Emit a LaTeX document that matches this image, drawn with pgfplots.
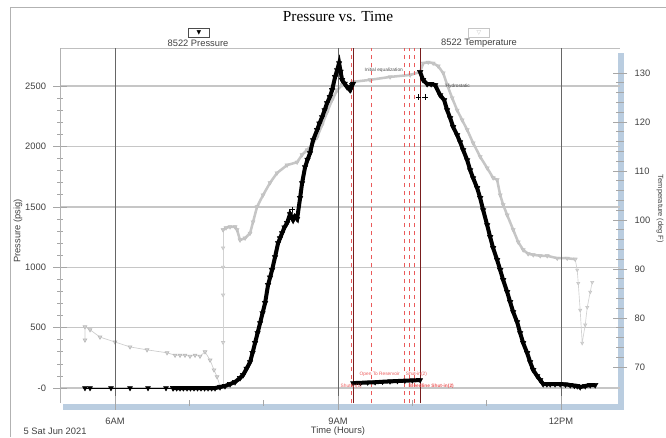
\documentclass[border=0pt]{standalone}
\usepackage{fontspec}
\setmainfont{Liberation Sans}
\newfontfamily\titlefont{Liberation Serif}
\newfontfamily\dejavu{DejaVu Sans}
\usepackage{pgfplots}
\pgfplotsset{compat=1.18}
\definecolor{band}{RGB}{186,205,224}
\definecolor{evred}{RGB}{235,90,90}
\definecolor{evdark}{RGB}{120,30,30}
\tikzset{tl/.style={font=\fontsize{7}{8}\selectfont, text=black!75}}
\pgfplotsset{base/.style={at={(45pt,-302.25pt)}, anchor=south west, scale only axis,
  width=420pt, height=266.25pt, xmin=5.26, xmax=12.794}}
\begin{document}
\begin{tikzpicture}[x=0.75pt,y=-0.75pt]
\path[use as bounding box] (0,0) rectangle (666,437);
\draw[gray!60, line width=0.6pt] (10,437) -- (10,7) -- (666,7);
\fill[band] (618,53) rectangle (624,410);
\fill[band] (63,404) rectangle (624,410);
\draw[gray!50, line width=0.6pt] (60,48) -- (620,48);
% horizontal grid
\begin{axis}[base, ymin=-124, ymax=2815, axis line style={draw=none},
  xtick=\empty, ytick={0,500,...,2500}, yticklabels={}, ymajorgrids,
  major grid style={gray!45, line width=1.1pt}, tick style={draw=none}]
\end{axis}
% temperature
\begin{axis}[base, ymin=62.65, ymax=135.1, axis y line*=right, axis x line=none,
  y axis line style={draw=none}, /pgf/number format/assume math mode=true,
  ytick={70,80,...,130}, minor y tick num=4, tick align=center,
  major tick length=11pt, minor tick length=6pt,
  tick style={gray!70, line width=0.5pt},
  yticklabel style={tl, xshift=2pt}]
\addplot[gray!40, line width=0.5pt, mark=triangle*, mark size=1.6pt,
  mark options={rotate=180, fill=gray!30, draw=gray!55}] coordinates {
(5.596,75.5)(5.596,78.2)(5.664,77.6)(5.798,76.1)(6.000,75.1)(6.202,74.1)(6.431,73.5)
(6.700,72.9)(6.808,72.4)(6.875,72.4)(6.942,72.4)(7.009,72.2)(7.077,72.4)(7.144,72.2)
(7.211,73.1)(7.279,71.4)(7.332,69.4)(7.373,68.0)(7.413,66.1)};
\addplot[gray!35, line width=0.5pt, mark=triangle*, mark size=1.4pt,
  mark options={rotate=180, fill=gray!25, draw=gray!45}] coordinates {
(7.413,66.1)(7.454,66.1)(7.454,75.0)(7.454,84.7)(7.454,90.4)(7.454,94.3)(7.454,98.0)};
\addplot[gray!45, line width=1.9pt, mark=triangle*, mark size=1.8pt,
  mark options={rotate=180, fill=gray!45, draw=gray!50, line width=0.3pt}] coordinates {
(7.454,98.0)(7.494,98.4)(7.548,98.6)(7.615,98.6)(7.642,98.0)(7.682,95.9)(7.750,96.3)
(7.817,97.3)(7.857,99.6)(7.911,102.7)(7.992,105.1)(8.086,107.6)(8.180,109.6)(8.315,111.2)
(8.450,111.8)(8.517,113.3)(8.584,114.3)(8.665,115.7)(8.719,116.9)(8.786,119.4)(8.853,122.0)
(8.921,124.5)(8.988,126.5)(9.055,127.6)(9.136,127.1)(9.203,128.2)(9.432,128.6)(9.701,129.2)
(9.970,129.6)(10.105,130.2)(10.145,132.0)(10.213,132.2)(10.280,132.0)(10.347,131.4)
(10.415,130.0)(10.468,127.6)(10.536,124.9)(10.603,122.4)(10.670,120.4)(10.738,118.4)
(10.818,115.7)(10.913,112.9)(11.007,110.6)(11.087,108.6)(11.141,108.2)(11.182,105.1)
(11.222,103.1)(11.276,101.0)(11.357,98.0)(11.424,95.5)(11.491,93.9)(11.558,93.1)
(11.626,92.9)(11.720,92.7)(11.814,92.7)(11.949,92.2)(12.083,92.2)(12.191,92.0)};
\addplot[gray!35, line width=0.5pt, mark=triangle*, mark size=1.3pt,
  mark options={rotate=180, fill=gray!25, draw=gray!45}] coordinates {
(12.191,92.0)(12.218,89.8)(12.232,87.1)(12.258,81.6)(12.285,74.9)(12.326,78.6)
(12.353,82.2)(12.393,85.3)(12.420,87.3)};
\end{axis}
% pressure
\begin{axis}[base, ymin=-124, ymax=2815,
  axis x line*=bottom, axis y line*=left,
  x axis line style={draw=none}, y axis line style={gray!60, line width=0.5pt},
  xtick={6,9,12}, xticklabels={6AM,9AM,12PM}, minor xtick={7,8,10,11},
  xmajorgrids, major grid style={black!60, line width=0.6pt},
  ytick={0,500,...,2500}, yticklabels={-0,500,1000,1500,2000,2500}, minor y tick num=4,
  tick align=center, major tick length=10pt, minor tick length=4.5pt,
  tick style={gray!70, line width=0.5pt},
  tick label style={tl}, xticklabel style={yshift=-2.5pt}, yticklabel style={xshift=-2pt}]
\addplot[evred, dashed, line width=0.6pt] coordinates {(9.176,-124)(9.176,2815)};
\addplot[evred, dashed, line width=0.6pt] coordinates {(9.445,-124)(9.445,2815)};
\addplot[evred, dashed, line width=0.6pt] coordinates {(9.890,-124)(9.890,2815)};
\addplot[evred, dashed, line width=0.6pt] coordinates {(9.957,-124)(9.957,2815)};
\addplot[evred, dashed, line width=0.6pt] coordinates {(10.024,-124)(10.024,2815)};
\addplot[evdark, line width=0.7pt] coordinates {(9.203,-124)(9.203,2815)};
\addplot[evdark, line width=0.7pt] coordinates {(10.105,-124)(10.105,2815)};
\addplot[black, line width=0.5pt, mark=triangle*, mark size=2pt,
  mark options={rotate=180}] coordinates {
(5.596,0)(5.664,0)(5.946,0)(6.202,0)(6.444,0)(6.686,0)(6.781,0)};
\addplot[black, line width=3pt, mark=triangle*, mark size=2.4pt,
  mark options={rotate=180, line width=0.3pt}] coordinates {
(6.781,0)(6.830,0)(6.875,0)(6.920,0)(6.969,0)(7.015,0)(7.063,0)(7.110,0)(7.157,0)
(7.205,0)(7.252,0)(7.300,0)(7.346,0)(7.413,8)(7.480,17)(7.548,33)(7.615,50)(7.682,83)
(7.723,108)(7.770,160)(7.817,215)(7.850,290)(7.884,373)(7.918,455)(7.952,538)(7.985,620)
(8.019,704)(8.059,853)(8.086,915)(8.113,977)(8.153,1084)(8.194,1200)(8.220,1240)
(8.248,1283)(8.280,1330)(8.315,1366)(8.355,1440)(8.396,1391)(8.420,1420)(8.450,1400)
(8.490,1573)(8.517,1697)(8.557,1829)(8.590,1890)(8.624,1945)(8.665,2053)(8.719,2136)
(8.750,2190)(8.786,2243)(8.820,2300)(8.853,2359)(8.890,2410)(8.921,2467)(8.961,2575)
(8.988,2632)(9.015,2690)(9.035,2620)(9.055,2550)(9.090,2520)(9.122,2492)(9.163,2467)
(9.190,2510)(9.203,2520)};
\addplot[black, line width=3pt, mark=triangle*, mark size=2.2pt,
  mark options={rotate=180, line width=0.3pt}] coordinates {
(9.203,41)(9.300,43)(9.400,46)(9.500,48)(9.600,52)(9.700,55)(9.800,58)(9.900,61)
(10.000,63)(10.105,66)};
\addplot[black, line width=3pt, mark=triangle*, mark size=2.4pt,
  mark options={rotate=180, line width=0.3pt}] coordinates {
(10.105,2616)(10.145,2550)(10.199,2517)(10.253,2517)(10.307,2508)(10.374,2425)
(10.428,2384)(10.468,2301)(10.509,2235)(10.549,2161)(10.603,2094)(10.643,2036)
(10.684,1970)(10.738,1887)(10.778,1804)(10.818,1738)(10.872,1656)(10.913,1573)
(10.953,1473)(11.007,1349)(11.047,1250)(11.087,1159)(11.141,1060)(11.182,977)
(11.222,894)(11.276,795)(11.316,712)(11.357,629)(11.410,546)(11.451,455)(11.491,373)
(11.545,290)(11.585,215)(11.626,149)(11.680,99)(11.720,66)(11.760,33)(11.810,33)
(11.855,33)(11.920,33)(11.989,33)(12.060,30)(12.124,25)(12.180,20)(12.218,17)
(12.258,8)(12.326,17)(12.393,25)(12.460,25)};
\addplot[black, only marks, mark=+, mark size=2pt] coordinates {
(10.080,2409)(10.170,2409)(8.380,1480)};
\end{axis}
% texts
\node[font=\titlefont\fontsize{11.5}{12}\selectfont] at (338,16.5) {Pressure vs. Time};
\node[draw=black!70, line width=0.4pt, inner sep=0pt, minimum width=16pt, minimum height=7pt,
  font=\dejavu\fontsize{4.5}{5}\selectfont] at (199,32.5) {▼};
\node[tl] at (198,43) {8522 Pressure};
\node[draw=gray!45, line width=0.4pt, inner sep=0pt, minimum width=16pt, minimum height=7pt,
  text=gray!50, font=\dejavu\fontsize{4.5}{5}\selectfont] at (479,32.5) {▽};
\node[tl] at (479,43) {8522 Temperature};
\node[tl, rotate=90] at (18,231) {Pressure (psig)};
\node[tl, font=\fontsize{5.6}{6}\selectfont, rotate=-90] at (660,209) {Temperature (deg F)};
\node[tl] at (338,431) {Time (Hours)};
\node[tl, anchor=west] at (19,431) {5 Sat Jun 2021};
\node[font=\fontsize{3.6}{4}\selectfont, text=black!70, anchor=west] at (360,70) {Initial equalization};
\node[font=\fontsize{3.6}{4}\selectfont, text=black!70, anchor=west] at (441,86) {Hydrostatic};
\node[font=\fontsize{3.6}{4}\selectfont, text=evred, anchor=west] at (355,374) {Open To Reservoir \quad Shut-in(2)};
\node[font=\fontsize{3.6}{4}\selectfont, text=evred, anchor=west] at (336,386) {Shut-in(1)};
\node[font=\bfseries\fontsize{3.6}{4}\selectfont, text=evred, anchor=west] at (404,386) {Bleedline Shut-in(2)};
\end{tikzpicture}
\end{document}
